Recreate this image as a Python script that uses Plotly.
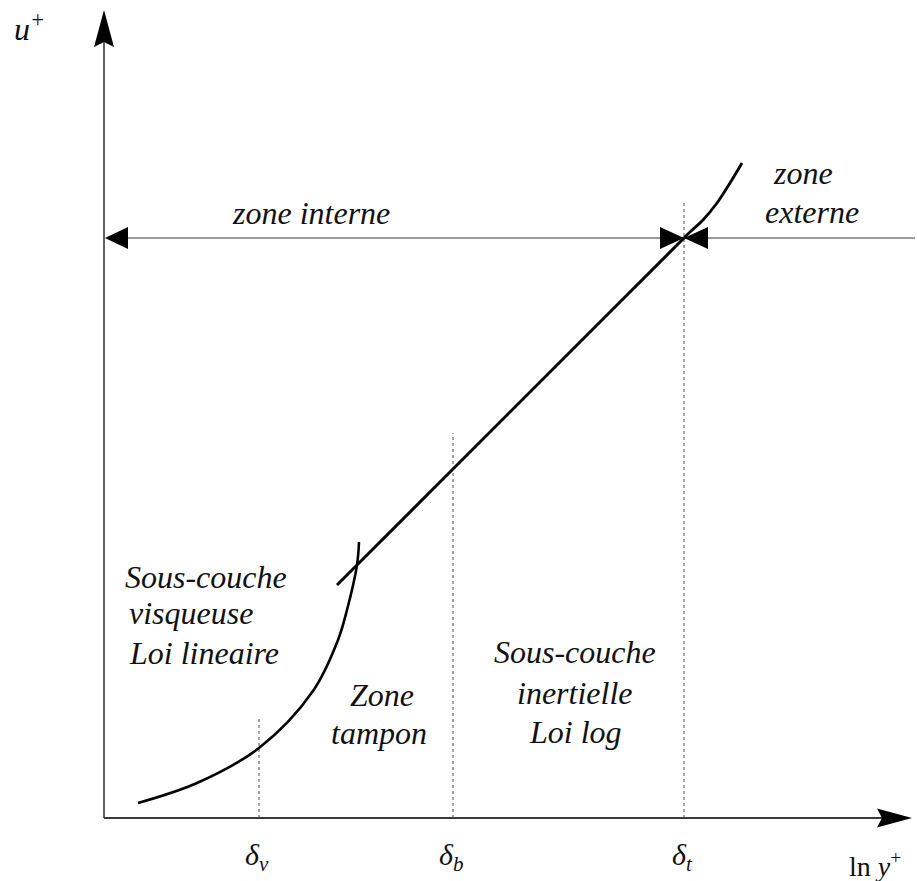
import plotly.graph_objects as go

# ---- data (schematic units: origin at the axes corner, 1 unit ~ 1 px) ----
delta_names = ["δ<sub>v</sub>", "δ<sub>b</sub>", "δ<sub>t</sub>"]
delta_x = [155, 349, 580]
delta_top = [102, 385, 615]

visc_x = [34, 93, 155, 209, 234, 243, 253, 255]
visc_y = [15, 35, 70, 127, 178, 208, 253, 276]

log_x = [233, 580]
log_y = [233, 580]

outer_x = [580, 586, 599, 613, 626, 638]
outer_y = [580, 586, 598, 615, 635, 655]

zone_line_y = 580
x_min, x_max = -104, 813
y_min, y_max = -63, 818
x_axis_end = 808
y_axis_end = 808

FONT = "Liberation Serif"
AX = "#3a3a3a"

fig = go.Figure()

# dotted verticals
for xd, yt in zip(delta_x, delta_top):
    fig.add_trace(go.Scatter(x=[xd, xd], y=[0, yt], mode="lines",
                             line=dict(color="#6a6a6a", width=1.2, dash="dot"),
                             hoverinfo="skip", showlegend=False))

# axes lines
fig.add_trace(go.Scatter(x=[0, 0], y=[0, y_axis_end - 30], mode="lines",
                         line=dict(color=AX, width=1.6), showlegend=False, hoverinfo="skip"))
fig.add_trace(go.Scatter(x=[0, x_axis_end - 30], y=[0, 0], mode="lines",
                         line=dict(color=AX, width=1.8), showlegend=False, hoverinfo="skip"))
# zone line
fig.add_trace(go.Scatter(x=[5, x_max - 2], y=[zone_line_y, zone_line_y], mode="lines",
                         line=dict(color="#7a7a7a", width=1.5), showlegend=False, hoverinfo="skip"))

# curves
fig.add_trace(go.Scatter(x=visc_x, y=visc_y, mode="lines",
                         line=dict(color="black", width=2.6, shape="spline", smoothing=1.0),
                         showlegend=False, hoverinfo="skip"))
fig.add_trace(go.Scatter(x=log_x, y=log_y, mode="lines", line=dict(color="black", width=3),
                         showlegend=False, hoverinfo="skip"))
fig.add_trace(go.Scatter(x=outer_x, y=outer_y, mode="lines",
                         line=dict(color="black", width=2.8, shape="spline", smoothing=1.0),
                         showlegend=False, hoverinfo="skip"))


def stealth(tx, ty, direction, length, half, notch):
    # direction: (dx, dy) unit vector pointing to tip
    dx, dy = direction
    px, py = -dy, dx
    bx, by = tx - dx * length, ty - dy * length
    nx, ny = tx - dx * (length - notch), ty - dy * (length - notch)
    pts = [(tx, ty), (bx + px * half, by + py * half), (nx, ny), (bx - px * half, by - py * half)]
    return "M " + " L ".join(f"{a},{b}" for a, b in pts) + " Z"


shapes = []
# axis arrowheads
shapes.append(dict(type="path", path=stealth(0, y_axis_end, (0, 1), 37, 10, 5),
                   fillcolor="black", line=dict(width=0), xref="x", yref="y"))
shapes.append(dict(type="path", path=stealth(x_axis_end, 0, (1, 0), 35, 9.5, 5),
                   fillcolor="black", line=dict(width=0), xref="x", yref="y"))
# zone arrowheads (flat backed)
shapes.append(dict(type="path", path=stealth(1, zone_line_y, (-1, 0), 23, 11, 0),
                   fillcolor="black", line=dict(width=0), xref="x", yref="y"))
shapes.append(dict(type="path", path=stealth(delta_x[2], zone_line_y, (1, 0), 24, 11, 0),
                   fillcolor="black", line=dict(width=0), xref="x", yref="y"))
shapes.append(dict(type="path", path=stealth(delta_x[2], zone_line_y, (-1, 0), 24, 11, 0),
                   fillcolor="black", line=dict(width=0), xref="x", yref="y"))

ann = []


def txt(x, y, s, size=30, xanchor="center", italic=True, family=FONT):
    ann.append(dict(x=x, y=y, text=s, showarrow=False, xref="x", yref="y",
                    xanchor=xanchor, yanchor="middle",
                    font=dict(family=family, size=size, color="#111",
                              style="italic" if italic else "normal")))


txt(-75, 791, "u<sup>+</sup>", size=32)
txt(771, -46, "ln <i>y</i><sup>+</sup>", size=28, italic=False)
for xd, nm in zip(delta_x, delta_names):
    txt(xd - 2, -39, nm, size=30)

txt(207, 605, "zone interne", size=32)
txt(699, 645, "zone", size=32)
txt(708, 606, "externe", size=32)

txt(19, 241, "Sous-couche", size=32, xanchor="left")
txt(23, 205, "visqueuse", size=32, xanchor="left")
txt(23, 165, "Loi lineaire", size=32, xanchor="left")

txt(278, 123, "Zone", size=32)
txt(275, 85, "tampon", size=32)

txt(471, 166, "Sous-couche", size=32)
txt(471, 125, "inertielle", size=32)
txt(471, 86, "Loi log", size=32)

fig.update_layout(
    width=917, height=881,
    margin=dict(l=0, r=0, t=0, b=0),
    font=dict(family=FONT),
    paper_bgcolor="white", plot_bgcolor="white",
    xaxis=dict(range=[x_min, x_max], visible=False, fixedrange=True),
    yaxis=dict(range=[y_min, y_max], visible=False, fixedrange=True),
    shapes=shapes, annotations=ann, showlegend=False,
)

fig.write_html(
    "out.html",
    config={"displayModeBar": False, "staticPlot": True},
    post_script="document.body.style.margin='0';document.body.style.overflow='hidden';",
)
